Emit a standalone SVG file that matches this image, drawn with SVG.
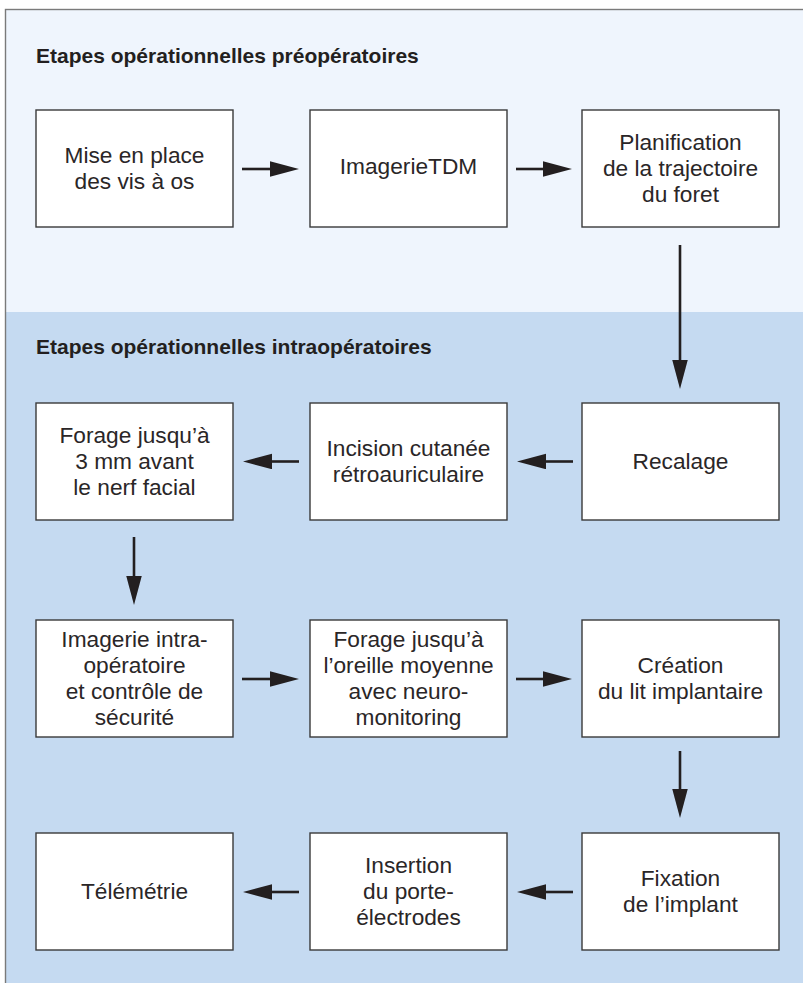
<svg xmlns="http://www.w3.org/2000/svg" width="803" height="983" viewBox="0 0 803 983">
<style>
.box{fill:#ffffff;stroke:#3a3a3a;stroke-width:1.4}
.t{font-family:"Liberation Sans",Arial,sans-serif;font-size:22.7px;fill:#2a2627;text-anchor:middle}
.h{font-family:"Liberation Sans",Arial,sans-serif;font-size:21px;font-weight:bold;fill:#231f20}
.c{stroke:#231f20;stroke-width:2.6;fill:none;marker-end:url(#ah)}
</style>
<defs>
<marker id="ah" markerUnits="userSpaceOnUse" markerWidth="30" markerHeight="16" refX="1" refY="7.75" orient="auto" viewBox="0 0 30 16">
<path d="M0,0 L29,7.75 L0,15.5 z" fill="#231f20"/>
</marker>
</defs>
<g id="background">
<rect x="5.5" y="9.5" width="820" height="1000" fill="#eff5fd"/>
<rect x="5.5" y="312" width="820" height="700" fill="#c5daf1"/>
<rect x="5.5" y="9.5" width="820" height="1000" fill="none" stroke="#7a7a7a" stroke-width="1.4"/>
</g>
<g id="headers">
<text class="h" x="36" y="63">Etapes opérationnelles préopératoires</text>
<text class="h" x="36" y="354">Etapes opérationnelles intraopératoires</text>
</g>
<g id="connectors">
<line class="c" x1="242" y1="169" x2="271" y2="169"/>
<line class="c" x1="516" y1="169" x2="544" y2="169"/>
<line class="c" x1="680" y1="245" x2="680" y2="361"/>
<line class="c" x1="573" y1="461.5" x2="545" y2="461.5"/>
<line class="c" x1="299" y1="461.5" x2="271" y2="461.5"/>
<line class="c" x1="134" y1="537" x2="134" y2="577"/>
<line class="c" x1="242" y1="679" x2="271" y2="679"/>
<line class="c" x1="516" y1="679" x2="544" y2="679"/>
<line class="c" x1="680" y1="751" x2="680" y2="790"/>
<line class="c" x1="573" y1="892" x2="545" y2="892"/>
<line class="c" x1="299" y1="892" x2="271" y2="892"/>
</g>
<g id="n1"><rect class="box" x="36" y="110" width="197" height="117"/>
<text class="t" x="134.5" y="163">Mise en place</text><text class="t" x="134.5" y="189">des vis à os</text></g>
<g id="n2"><rect class="box" x="310" y="110" width="197" height="117"/>
<text class="t" x="408.5" y="174">ImagerieTDM</text></g>
<g id="n3"><rect class="box" x="582" y="110" width="197" height="117"/>
<text class="t" x="680.5" y="150">Planification</text><text class="t" x="680.5" y="176">de la trajectoire</text><text class="t" x="680.5" y="202">du foret</text></g>
<g id="n4"><rect class="box" x="582" y="403" width="197" height="117"/>
<text class="t" x="680.5" y="469">Recalage</text></g>
<g id="n5"><rect class="box" x="310" y="403" width="197" height="117"/>
<text class="t" x="408.5" y="456">Incision cutanée</text><text class="t" x="408.5" y="482">rétroauriculaire</text></g>
<g id="n6"><rect class="box" x="36" y="403" width="197" height="117"/>
<text class="t" x="134.5" y="443">Forage jusqu’à</text><text class="t" x="134.5" y="469">3 mm avant</text><text class="t" x="134.5" y="495">le nerf facial</text></g>
<g id="n7"><rect class="box" x="36" y="620" width="197" height="117"/>
<text class="t" x="134.5" y="647">Imagerie intra-</text><text class="t" x="134.5" y="673">opératoire</text><text class="t" x="134.5" y="699">et contrôle de</text><text class="t" x="134.5" y="725">sécurité</text></g>
<g id="n8"><rect class="box" x="310" y="620" width="197" height="117"/>
<text class="t" x="408.5" y="647">Forage jusqu’à</text><text class="t" x="408.5" y="673">l’oreille moyenne</text><text class="t" x="408.5" y="699">avec neuro-</text><text class="t" x="408.5" y="725">monitoring</text></g>
<g id="n9"><rect class="box" x="582" y="620" width="197" height="117"/>
<text class="t" x="680.5" y="673">Création</text><text class="t" x="680.5" y="699">du lit implantaire</text></g>
<g id="n10"><rect class="box" x="582" y="833" width="197" height="117"/>
<text class="t" x="680.5" y="886">Fixation</text><text class="t" x="680.5" y="912">de l’implant</text></g>
<g id="n11"><rect class="box" x="310" y="833" width="197" height="117"/>
<text class="t" x="408.5" y="873">Insertion</text><text class="t" x="408.5" y="899">du porte-</text><text class="t" x="408.5" y="925">électrodes</text></g>
<g id="n12"><rect class="box" x="36" y="833" width="197" height="117"/>
<text class="t" x="134.5" y="899">Télémétrie</text></g>
</svg>
